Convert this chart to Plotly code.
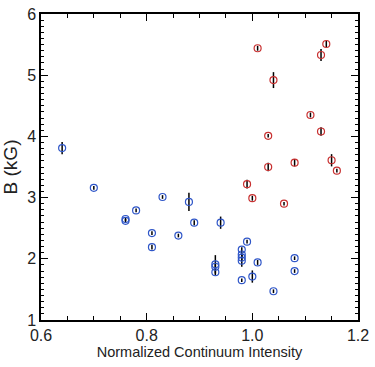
import plotly.graph_objects as go

# Blue series (continuum intensity, B in kG, error)
blue_x = [0.64, 0.70, 0.76, 0.76, 0.78, 0.81, 0.81, 0.83, 0.86, 0.88, 0.89, 0.94, 0.99,
          0.93, 0.93, 0.93, 0.98, 0.98, 0.98, 0.98, 0.98, 1.01, 1.00, 1.04, 1.08, 1.08]
blue_y = [3.81, 3.16, 2.65, 2.62, 2.79, 2.42, 2.19, 3.01, 2.38, 2.93, 2.59, 2.59, 2.28,
          1.91, 1.87, 1.78, 2.15, 2.07, 2.02, 1.97, 1.65, 1.94, 1.71, 1.47, 2.01, 1.80]
blue_err = [0.10, 0.03, 0.03, 0.03, 0.03, 0.03, 0.04, 0.03, 0.03, 0.15, 0.04, 0.10, 0.03,
            0.15, 0.05, 0.05, 0.04, 0.04, 0.05, 0.10, 0.03, 0.04, 0.10, 0.03, 0.03, 0.03]

# Red series
red_x = [1.01, 1.14, 1.13, 1.04, 1.11, 1.13, 1.03, 1.03, 1.08, 1.15, 1.16, 0.99, 1.00, 1.06]
red_y = [5.44, 5.51, 5.33, 4.92, 4.35, 4.08, 4.01, 3.50, 3.57, 3.61, 3.44, 3.22, 2.99, 2.90]
red_err = [0.04, 0.05, 0.10, 0.13, 0.04, 0.07, 0.03, 0.07, 0.06, 0.10, 0.03, 0.07, 0.04, 0.03]

fig = go.Figure()
fig.add_trace(go.Scatter(
    x=blue_x, y=blue_y, mode="markers",
    marker=dict(symbol="circle-open", size=7, color="#2f56c8", line=dict(width=1.2)),
    error_y=dict(type="data", array=blue_err, color="black", thickness=1.5, width=0),
    showlegend=False))
fig.add_trace(go.Scatter(
    x=red_x, y=red_y, mode="markers",
    marker=dict(symbol="circle-open", size=7, color="#c83030", line=dict(width=1.2)),
    error_y=dict(type="data", array=red_err, color="black", thickness=1.5, width=0),
    showlegend=False))

font = dict(family="Liberation Sans, Arial, sans-serif", size=16, color="#222222")
fig.update_layout(
    width=375, height=367,
    margin=dict(l=41, r=17, t=14, b=47),
    paper_bgcolor="white", plot_bgcolor="white",
    font=font,
    xaxis=dict(range=[0.6, 1.2], tickvals=[0.6, 0.8, 1.0, 1.2], ticktext=["0.6", "0.8", "1.0", "1.2"],
               ticks="inside", ticklen=7, tickwidth=1.2, tickcolor="black",
               showline=True, linecolor="black", linewidth=1.5, mirror="allticks",
               showgrid=False, zeroline=False, automargin=False, ticklabeloverflow="allow",
               minor=dict(dtick=0.05, tick0=0.6, ticks="inside", ticklen=4, tickcolor="black", showgrid=False),
               title=dict(text="Normalized Continuum Intensity", standoff=3, font=dict(size=14.5))),
    yaxis=dict(range=[1, 6], tickvals=[1, 2, 3, 4, 5, 6],
               ticks="inside", ticklen=7, tickwidth=1.2, tickcolor="black",
               showline=True, linecolor="black", linewidth=1.5, mirror="allticks",
               showgrid=False, zeroline=False, automargin=False, ticklabeloverflow="allow",
               minor=dict(dtick=0.1, tick0=1, ticks="inside", ticklen=3, tickcolor="black", showgrid=False),
               title=dict(text="B (kG)", standoff=4)),
)
fig.write_html("out.html", config={"displayModeBar": False},
               post_script="document.body.style.margin='0';")
